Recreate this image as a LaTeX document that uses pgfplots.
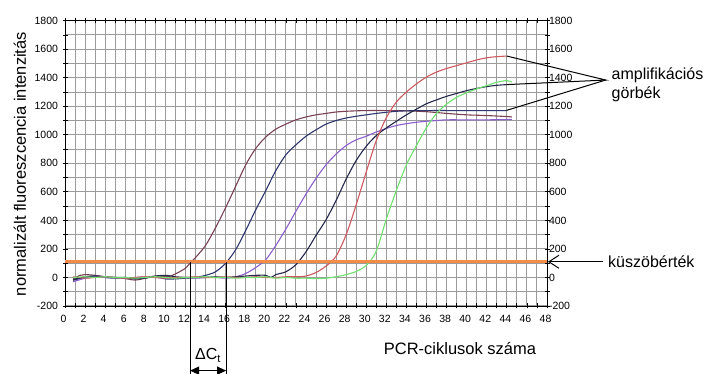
\documentclass[border=0pt]{standalone}
\usepackage{pgfplots}
\pgfplotsset{compat=1.18}
\usepackage{fontspec}
\setmainfont{Liberation Sans}
\usetikzlibrary{arrows.meta}
\definecolor{cA}{RGB}{120,65,85}
\definecolor{cB}{RGB}{45,55,110}
\definecolor{cC}{RGB}{140,95,205}
\definecolor{cD}{RGB}{35,40,75}
\definecolor{cE}{RGB}{205,90,95}
\definecolor{cF}{RGB}{110,225,110}
\definecolor{thr}{RGB}{242,140,70}
\definecolor{gridc}{RGB}{155,155,155}
\begin{document}
\begin{tikzpicture}
\pgfplotsset{
  base/.style={
    scale only axis, width=482pt, height=285.3pt,
    at={(65pt,68pt)}, anchor=south west,
    xmin=0, xmax=48, ymin=-200, ymax=1800,
    ytick={-200,0,...,1800},
    yticklabels={-200,0,200,400,600,800,1000,1200,1400,1600,1800},
    ticklabel style={font=\fontsize{10.5}{11}\selectfont},
    /pgf/number format/assume math mode=true,
  }
}
% right-hand tick labels
\begin{axis}[base,
  axis y line*=right, axis x line=none,
  major tick length=0pt,
  yticklabel style={xshift=-1.5pt},
]
\addplot[draw=none] coordinates {(0,0)};
\end{axis}
\begin{axis}[base,
  clip=false,
  xtick={0,2,...,48}, minor xtick={1,3,...,47},
  minor ytick={-100,100,...,1700},
  grid=both,
  major grid style={gridc, line width=1pt},
  minor grid style={gridc, line width=1pt},
  tick align=center, major tick length=5pt, minor tick length=5pt,
  tick style={black, line width=0.8pt},
  axis line style={black, line width=0.9pt},
  every axis plot/.append style={line width=1.1pt, line join=round, smooth, tension=0.5},
  yticklabel style={xshift=-1pt},
  xticklabel style={xshift=-1.5pt, yshift=-3pt},
]
% A brown
\addplot[cA] coordinates {(0.8,-10) (1.5,15) (2,20) (3,15) (4,5) (5,0) (6,-8) (7,-18) (8,-5) (9,10) (10,5) (10.5,10) (11,25) (12,65) (12.5,105) (13,140) (14,225) (15,350) (16,490) (17,640) (18,790) (19,905) (20,985) (21,1040) (22,1075) (23,1105) (24,1125) (25,1140) (26,1150) (27,1160) (28,1165) (29,1168) (30,1170) (32,1170) (34,1168) (36,1162) (38,1150) (40,1140) (42,1135) (44,1128) (44.5,1125)};
% B navy
\addplot[cB] coordinates {(0.8,-20) (2,0) (3,10) (4,0) (5,-5) (6,0) (7,-5) (8,0) (9,5) (10,-10) (11,-10) (12,-5) (13,0) (14,15) (15,40) (16,100) (17,195) (18,330) (19,475) (20,610) (21,750) (22,860) (23,930) (24,990) (25,1035) (26,1075) (27,1100) (28,1118) (29,1130) (30,1140) (31,1150) (32,1158) (33,1165) (34,1168) (36,1170) (40,1170) (44,1170)};
% C purple
\addplot[cC] coordinates {(0.8,-30) (1.5,-15) (2,-5) (3,5) (4,0) (5,0) (6,-5) (7,0) (8,5) (9,0) (10,-5) (11,0) (12,0) (13,-5) (14,0) (15,0) (16,-5) (17,5) (18,28) (19,70) (20,125) (21,225) (22,340) (23,465) (24,585) (25,695) (26,790) (27,865) (28,925) (29,965) (30,990) (31,1020) (32,1045) (33,1065) (34,1078) (35,1088) (36,1095) (37,1100) (38,1105) (40,1105) (42,1105) (44,1107) (44.5,1107)};
% D dark navy
\addplot[cD] coordinates {(0.8,-15) (2,5) (3,10) (4,5) (5,0) (6,0) (7,-10) (8,-5) (9,10) (10,15) (11,5) (12,0) (13,0) (14,0) (15,5) (16,0) (17,5) (18,10) (19,15) (20,15) (20.5,0) (21,20) (22,40) (23,90) (24,180) (25,295) (26,405) (27,540) (28,690) (29,820) (30,920) (31,995) (32,1048) (33,1095) (34,1140) (35,1180) (36,1218) (37,1245) (38,1270) (39,1290) (40,1310) (41,1325) (42,1338) (43,1347) (44,1352)};
% E red
\addplot[cE] coordinates {(0.8,5) (2,-5) (3,0) (4,5) (5,0) (6,-5) (7,0) (8,5) (9,0) (10,-5) (11,0) (12,0) (13,5) (14,0) (15,0) (16,5) (17,0) (18,0) (19,5) (20,0) (21,0) (22,5) (23,5) (24,10) (25,35) (26,80) (27,150) (28,300) (29,510) (30,740) (31,960) (32,1120) (33,1230) (34,1300) (35,1357) (36,1405) (37,1440) (38,1465) (39,1485) (40,1505) (41,1525) (42,1540) (43,1548) (44,1552)};
% F green
\addplot[cF] coordinates {(0.8,0) (2,5) (3,0) (4,5) (5,0) (6,0) (7,-5) (8,0) (9,5) (10,0) (11,-5) (12,0) (13,0) (14,5) (15,0) (16,0) (17,-5) (18,0) (19,0) (20,5) (21,-5) (22,0) (23,-5) (24,-5) (25,-8) (26,-5) (27,5) (28,20) (29,42) (30,85) (31,185) (32,410) (33,610) (34,790) (35,925) (36,1050) (37,1150) (38,1215) (39,1263) (40,1295) (41,1322) (42,1345) (43,1368) (44,1380) (44.5,1370)};
% threshold
\addplot[thr, line width=2.6pt, sharp plot] coordinates {(0,110) (48,110)};
% annotations
\draw[black, line width=1pt] (axis cs:44,1552) -- (axis cs:53.85,1384) -- (axis cs:44,1352);
\draw[black, line width=1pt] (axis cs:53.85,1384) -- (axis cs:44,1172);
\draw[black, line width=1pt, -{Straight Barb[length=10pt,width=13pt]}] (axis cs:53.6,110) -- (axis cs:48.1,110);
\draw[black, line width=1pt] (axis cs:12.45,110) -- (axis cs:12.45,-676);
\draw[black, line width=1pt] (axis cs:16.05,110) -- (axis cs:16.05,-676);
\draw[black, line width=1.2pt, {Triangle[length=9pt,width=8pt]}-{Triangle[length=9pt,width=8pt]}] (axis cs:12.45,-653) -- (axis cs:16.05,-653);
\end{axis}
\node[rotate=90, font=\fontsize{16.5}{18}\selectfont, inner sep=0pt] at (20pt,210pt) {normalizált fluoreszcencia intenzitás};
\node[anchor=base, font=\fontsize{16.5}{18}\selectfont, inner sep=0pt] at (460pt,19pt) {PCR-ciklusok száma};
\node[anchor=base west, font=\fontsize{16}{18}\selectfont, inner sep=0pt] at (611.5pt,294.2pt) {amplifikációs};
\node[anchor=base west, font=\fontsize{16}{18}\selectfont, inner sep=0pt] at (611.5pt,275.2pt) {görbék};
\node[anchor=base west, font=\fontsize{16}{18}\selectfont, inner sep=0pt] at (608pt,106.7pt) {küszöbérték};
\node[anchor=base west, font=\fontsize{16}{18}\selectfont, inner sep=0pt] at (195pt,14pt) {ΔC\textsubscript{t}};
\pgfresetboundingbox
\path[use as bounding box] (0,0) rectangle (706pt,374pt);
\end{tikzpicture}
\end{document}
